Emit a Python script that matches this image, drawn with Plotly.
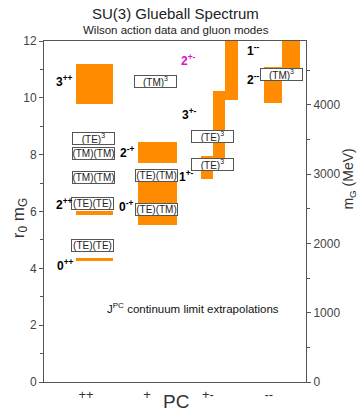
import plotly.graph_objects as go

# ---------------- data ----------------
R0_INV_MEV = 410.0  # 1/r0 in MeV, links left and right axes

pc_columns = [1, 2, 3, 4]
pc_ticktext = ["++", "+", "+-", "--"]

# continuum-limit bands (r0 * mG)
band_state = ["0++", "2++", "3++", "0-+", "2-+", "1+-", "3+-", "2+-", "2--", "1--"]
band_col = [1, 1, 1, 2, 2, 3, 3, 3, 4, 4]
band_lo = [4.27, 5.89, 9.78, 5.54, 7.72, 7.14, 7.55, 9.93, 9.81, 11.05]
band_hi = [4.38, 6.01, 11.19, 7.15, 8.45, 7.95, 10.24, 12.0, 11.08, 12.0]

# J^PC labels
state_text = ["0<sup>++</sup>", "2<sup>++</sup>", "3<sup>++</sup>", "0<sup>-+</sup>", "2<sup>-+</sup>",
              "1<sup>+-</sup>", "3<sup>+-</sup>", "2<sup>+-</sup>", "2<sup>--</sup>", "1<sup>--</sup>"]
state_col = [1, 1, 1, 2, 2, 3, 3, 3, 4, 4]
state_val = [4.10, 6.25, 10.59, 6.18, 8.08, 7.24, 9.42, 11.33, 10.66, 11.68]

# gluon-mode labels
mode_text = ["(TE)(TE)", "(TE)(TE)", "(TM)(TM)", "(TM)(TM)", "(TE)<sup>3</sup>",
             "(TM)<sup>3</sup>", "(TE)(TM)", "(TE)(TM)",
             "(TE)<sup>3</sup>", "(TE)<sup>3</sup>", "(TM)<sup>3</sup>"]
mode_col = [1, 1, 1, 1, 1, 2, 2, 2, 3, 3, 4]
mode_val = [4.82, 6.27, 7.20, 8.03, 8.58, 10.59, 7.27, 6.07, 8.65, 7.64, 10.82]

# ---------------- styling (positions within columns) ----------------
band_dx = [0.142, 0.142, 0.142, 0.17, 0.17, -0.0085, 0.1835, 0.3885, 0.068, 0.3645]
band_w = [0.61, 0.61, 0.61, 0.632, 0.632, 0.197, 0.187, 0.223, 0.296, 0.297]
state_dx = [-0.344, -0.359, -0.359, -0.338, -0.322, -0.349, -0.30, -0.325, -0.254, -0.254]
mode_dx = [0.11, 0.11, 0.12, 0.12, 0.115, 0.148, 0.164, 0.164, 0.074, 0.074, 0.216]

ORANGE = "#ff8c00"
FONT = "Liberation Sans, Arial, Helvetica, sans-serif"
AXC = "#555555"

fig = go.Figure()
fig.add_trace(go.Bar(
    x=[c + d for c, d in zip(band_col, band_dx)],
    y=[h - l for h, l in zip(band_hi, band_lo)],
    base=band_lo,
    width=band_w,
    marker=dict(color=ORANGE, line=dict(width=0)),
    hoverinfo="skip",
    showlegend=False,
))
# invisible trace for right axis
fig.add_trace(go.Scatter(x=[1], y=[0], yaxis="y2", mode="markers",
                         marker=dict(opacity=0), showlegend=False, hoverinfo="skip"))

ann = []
for t, c, v, d in zip(mode_text, mode_col, mode_val, mode_dx):
    ann.append(dict(x=c + d, y=v, xref="x", yref="y", text=t, showarrow=False,
                    xanchor="center", yanchor="middle",
                    font=dict(family=FONT, size=10, color="#222"),
                    bgcolor="white", bordercolor="#555", borderwidth=1, borderpad=0,
                    width=41, height=11, align="center"))
for t, c, v, d in zip(state_text, state_col, state_val, state_dx):
    col = "#e010d0" if t.startswith("2<sup>+-") else "black"
    ann.append(dict(x=c + d, y=v, xref="x", yref="y", text="<b>" + t + "</b>", showarrow=False,
                    xanchor="center", yanchor="middle",
                    font=dict(family=FONT, size=12, color=col)))
ann.append(dict(x=2.75, y=2.61, xref="x", yref="y", xanchor="center", yanchor="middle",
                text="J<sup>PC</sup> continuum limit extrapolations", showarrow=False,
                font=dict(family=FONT, size=11.5, color="#111")))
# titles
common = dict(xref="paper", yref="paper", showarrow=False, xanchor="center", yanchor="middle")
ann.append(dict(x=0.502, y=1.082, text="SU(3) Glueball Spectrum",
                font=dict(family=FONT, size=15, color="#222"), **common))
ann.append(dict(x=0.502, y=1.032, text="Wilson action data and gluon modes",
                font=dict(family=FONT, size=11.5, color="#222"), **common))
ann.append(dict(x=0.502, y=-0.056, text="PC",
                font=dict(family=FONT, size=19, color="#333"), **common))
ann.append(dict(x=-0.092, y=0.48, text="r<sub>0</sub> m<sub>G</sub>", textangle=-90,
                font=dict(family=FONT, size=17, color="#333"), **common))
ann.append(dict(x=1.166, y=0.595, text="m<sub>G</sub> (MeV)", textangle=-90,
                font=dict(family=FONT, size=14, color="#333"), **common))

fig.update_layout(
    width=363, height=413,
    margin=dict(l=44, r=57, t=41, b=31, autoexpand=False),
    paper_bgcolor="white", plot_bgcolor="white",
    barmode="overlay", bargap=0,
    showlegend=False,
    annotations=ann,
    font=dict(family=FONT, color="#333"),
    xaxis=dict(range=[0.31, 4.61], tickmode="array", tickvals=pc_columns, ticktext=pc_ticktext,
               ticks="", showgrid=False, zeroline=False, showline=True, linecolor=AXC,
               linewidth=1, mirror=True, tickfont=dict(size=13, color="#333"),
               automargin=False),
    yaxis=dict(range=[0, 12], tickvals=[0, 2, 4, 6, 8, 10, 12], ticks="outside", ticklen=4,
               tickcolor=AXC, showgrid=False, zeroline=False, showline=True, linecolor=AXC,
               linewidth=1, tickfont=dict(size=12, color="#444"), automargin=False,
               minor=dict(dtick=1, ticks="outside", ticklen=3, tickcolor=AXC)),
    yaxis2=dict(range=[0, 12 * R0_INV_MEV], overlaying="y", side="right",
                tickvals=[0, 1000, 2000, 3000, 4000], ticks="outside", ticklen=4,
                tickcolor=AXC, showgrid=False, zeroline=False, showline=True, linecolor=AXC,
                linewidth=1, tickfont=dict(size=12, color="#444"), automargin=False,
                minor=dict(dtick=500, ticks="outside", ticklen=3, tickcolor=AXC)),
)

fig.write_html("out.html", config={"displayModeBar": False},
               post_script="document.body.style.margin='0';document.body.style.overflow='hidden';")
